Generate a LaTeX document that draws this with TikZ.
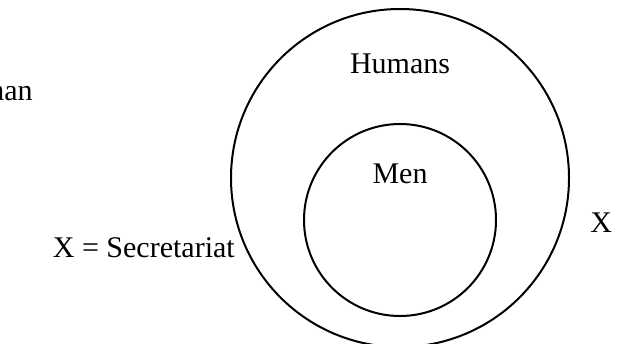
\documentclass[tikz,border=0pt]{standalone}
\usepackage{fontspec}
\setmainfont{Liberation Serif}
\begin{document}
\begin{tikzpicture}[x=0.75pt,y=-0.75pt,
  ring/.style={draw=black,line width=1.5pt,circle,inner sep=0pt},
  lbl/.style={font=\fontsize{22.5}{27}\selectfont,inner sep=0pt,anchor=base}]
\useasboundingbox (0,0) rectangle (634,343);
\clip (0,0) rectangle (634,343);
\node[ring,minimum size=253.5pt] (humans) at (400,178) {};
\node[ring,minimum size=144pt] (men) at (400,220) {};
\node[lbl] (hl) at (400,73) {Humans};
\node[lbl] (ml) at (400,183) {Men};
\node[lbl,anchor=base east] (xs) at (235,257) {X = Secretariat};
\node[lbl,anchor=base west] (xr) at (590,232) {X};
\node[lbl,anchor=base east] (mn) at (33,100) {man};
\end{tikzpicture}
\end{document}
